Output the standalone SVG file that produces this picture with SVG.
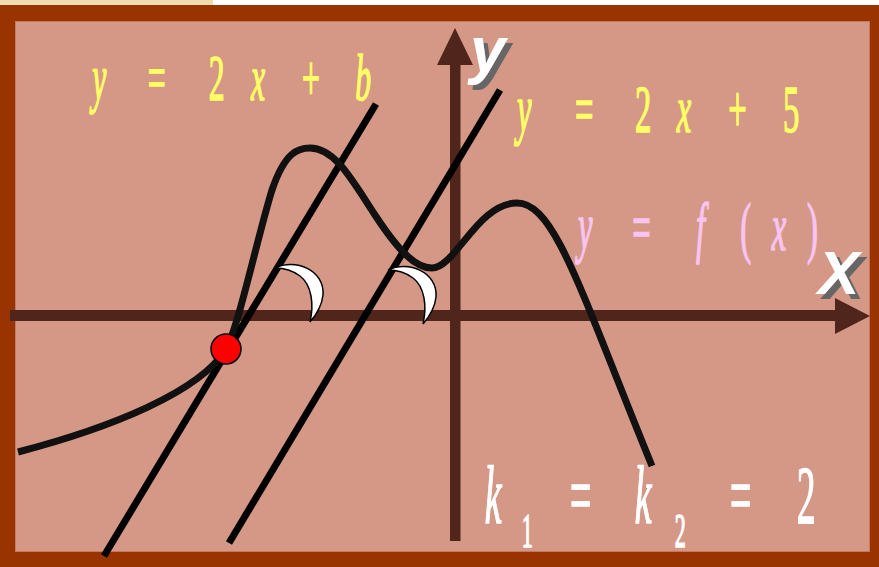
<svg xmlns="http://www.w3.org/2000/svg" width="879" height="567" viewBox="0 0 879 567">
<defs>
<style>
.eq{font-family:"Liberation Serif","Times New Roman",serif;font-style:italic;stroke-width:1.6;}
.up{font-style:normal;}
.ax{font-family:"Liberation Sans",Arial,sans-serif;font-weight:bold;font-style:italic;fill:#fff;}
.ln{stroke:#000;stroke-width:7;fill:none;}
.axis{fill:#4F251C;}
.moon{fill:#fff;stroke:#000;stroke-width:1.5;}
</style>
<filter id="shadow" x="-20%" y="-20%" width="150%" height="150%">
<feFlood flood-color="#666" result="c"/>
<feComposite in="c" in2="SourceAlpha" operator="in" result="s"/>
<feOffset in="s" dx="5" dy="5" result="o"/>
<feMerge><feMergeNode in="o"/><feMergeNode in="SourceGraphic"/></feMerge>
</filter>
<path id="crescent" d="M275,268 C295,258 325,270 323,295 C322,305 316,315 310,322 C314,305 312,285 300,276 C292,270 282,268 275,268 Z"/>
</defs>
<g id="frame">
<rect x="0" y="0" width="879" height="6" fill="#fff"/>
<rect x="0" y="0" width="213" height="5" fill="#EFDDB2"/>
<rect x="0" y="5" width="879" height="562" fill="#993300"/>
<rect x="15.5" y="21.5" width="854" height="530" fill="#D59886" stroke="#C47860" stroke-width="1"/>
</g>
<g id="axes">
<rect class="axis" x="10" y="310" width="828" height="11"/>
<polygon class="axis" points="835,298 870,316 835,334"/>
<rect class="axis" x="450" y="60" width="10.5" height="481"/>
<polygon class="axis" points="437,65 455,28 473,65"/>
</g>
<g id="connectors">
<line class="ln" x1="104" y1="556" x2="376" y2="104"/>
<line class="ln" x1="229" y1="543" x2="500" y2="90"/>
<path d="M18,452 C110,428 200,392 226,349 C238,329 258,235 272,190 C285,152 298,148 310,148 C335,148 352,180 375,215 C398,250 415,268 432,268 C455,268 478,203 517,203 C555,203 580,290 652,466" fill="none" stroke="#111" stroke-width="7"/>
</g>
<g id="angle1"><use href="#crescent" class="moon"/></g>
<g id="angle2"><use href="#crescent" class="moon" transform="translate(113,2)"/></g>
<g id="tangent-point"><circle cx="226" cy="349" r="15" fill="#FF0000" stroke="#000" stroke-width="1.5"/></g>
<g id="label-y" filter="url(#shadow)">
<text class="ax" x="470" y="72" font-size="64">y</text>
</g>
<g id="label-x" filter="url(#shadow)">
<text class="ax" x="818" y="294" font-size="62">X</text>
</g>
<g id="eq-b" transform="translate(0,100) scale(0.48,1)">
<text class="eq" font-size="66" fill="#FFFF66" stroke="#FFFF66"><tspan x="192">y </tspan><tspan class="up" x="308">= </tspan><tspan class="up" x="435">2 </tspan><tspan x="523">x </tspan><tspan class="up" x="629">+ </tspan><tspan x="740">b</tspan></text>
</g>
<g id="eq-5" transform="translate(0,132) scale(0.48,1)">
<text class="eq" font-size="68" fill="#FFFF66" stroke="#FFFF66"><tspan x="1077">y </tspan><tspan class="up" x="1198">= </tspan><tspan class="up" x="1323">2 </tspan><tspan x="1410">x </tspan><tspan class="up" x="1517">+ </tspan><tspan class="up" x="1631">5</tspan></text>
</g>
<g id="eq-f" transform="translate(0,250) scale(0.48,1)">
<text class="eq" font-size="68" fill="#F9C4F2" stroke="#F9C4F2"><tspan x="1204">y </tspan><tspan class="up" x="1317">= </tspan><tspan x="1450">f </tspan><tspan class="up" x="1542">( </tspan><tspan x="1608">x </tspan><tspan class="up" x="1681">)</tspan></text>
</g>
<g id="eq-k" transform="translate(0,523) scale(0.46,1)">
<text class="eq" font-size="82" fill="#fff" stroke="#fff"><tspan x="1054">k </tspan><tspan class="up" x="1134" dy="24" font-size="48">1 </tspan><tspan class="up" x="1239" dy="-24">= </tspan><tspan x="1380">k </tspan><tspan class="up" x="1467" dy="24" font-size="48">2 </tspan><tspan class="up" x="1587" dy="-24">= </tspan><tspan class="up" x="1732">2</tspan></text>
</g>
</svg>
